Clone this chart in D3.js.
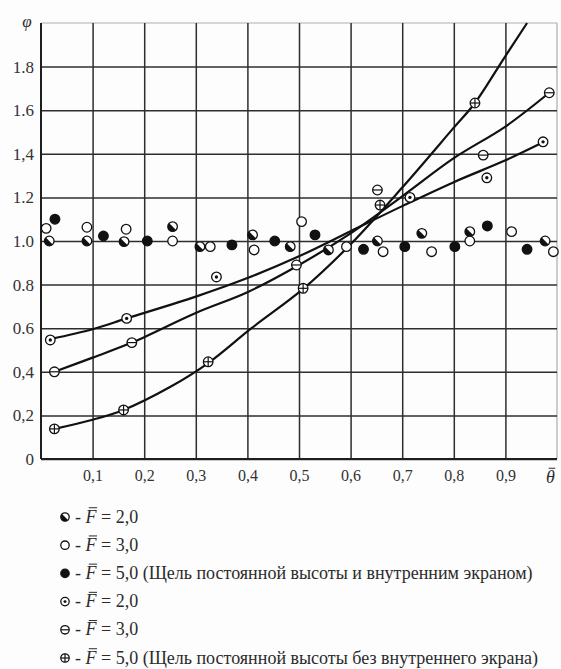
<!DOCTYPE html>
<html>
<head>
<meta charset="utf-8">
<script src="https://cdn.jsdelivr.net/npm/d3@7"></script>
<style>
  body { margin: 0; background: #fff; }
  svg text { white-space: pre; }
</style>
</head>
<body>
<div id="chart"></div>
<script>
"use strict"

var width = 561,
	height = 669;

var fontStack = "'Liberation Serif', 'Times New Roman', Tinos, 'DejaVu Serif', 'Noto Serif', serif";

// ticks
var xTicks = [0.1, 0.2, 0.3, 0.4, 0.5, 0.6, 0.7, 0.8, 0.9];
var xLabels = ["0,1", "0,2", "0,3", "0,4", "0,5", "0,6", "0,7", "0,8", "0,9"];
var yTicks = [0, 0.2, 0.4, 0.6, 0.8, 1.0, 1.2, 1.4, 1.6, 1.8];
var yLabels = ["0", "0,2", "0,4", "0.6", "0.8", "1.0", "1.2", "1,4", "1.6", "1.8"];

// fitted curves (without inner screen)
var curveF2 = [[0.018,0.55],[0.1,0.595],[0.166,0.645],[0.3,0.745],[0.4,0.83],[0.5,0.93],[0.6,1.045],[0.7,1.16],[0.8,1.27],[0.9,1.37],[0.975,1.455]];
var curveF3 = [[0.026,0.40],[0.1,0.465],[0.176,0.534],[0.3,0.67],[0.4,0.765],[0.5,0.89],[0.6,1.035],[0.7,1.205],[0.8,1.38],[0.9,1.525],[0.985,1.68]];
var curveF5 = [[0.026,0.138],[0.1,0.18],[0.16,0.225],[0.25,0.33],[0.324,0.44],[0.408,0.6],[0.508,0.78],[0.6,0.985],[0.7,1.245],[0.8,1.52],[0.841,1.633],[0.895,1.83],[0.942,2.0]];

// points, slot with inner screen
var halfPts = [[0.016,1.0],[0.089,1.0],[0.161,0.997],[0.255,1.066],[0.308,0.974],[0.41,1.028],[0.483,0.974],[0.557,0.959],[0.652,1.0],[0.738,1.035],[0.831,1.043],[0.977,1.0]];
var openPts = [[0.01,1.058],[0.089,1.063],[0.165,1.054],[0.255,1.0],[0.328,0.974],[0.413,0.959],[0.505,1.089],[0.592,0.974],[0.663,0.951],[0.757,0.951],[0.831,1.0],[0.912,1.043],[0.993,0.951]];
var filledPts = [[0.027,1.10],[0.121,1.023],[0.206,1.0],[0.37,0.982],[0.453,1.0],[0.531,1.028],[0.625,0.962],[0.705,0.974],[0.802,0.974],[0.865,1.069],[0.942,0.962]];

// points, slot without inner screen
var dotPts = [[0.018,0.546],[0.166,0.645],[0.34,0.835],[0.715,1.2],[0.864,1.29],[0.973,1.455]];
var minusPts = [[0.026,0.40],[0.176,0.534],[0.495,0.89],[0.652,1.234],[0.857,1.394],[0.985,1.68]];
var plusPts = [[0.026,0.138],[0.16,0.225],[0.324,0.446],[0.508,0.783],[0.657,1.165],[0.841,1.633]];

var legendSymbols = ["half", "open", "filled", "dot", "minus", "plus"];
var legendValues = ["2,0", "3,0", "5,0 (Щель постоянной высоты и внутренним экраном)",
	"2,0", "3,0", "5,0 (Щель постоянной высоты без внутреннего экрана)"];

var svg = d3.select("#chart").append("svg")
	.attr("width", width)
	.attr("height", height)
	.style("background", "#fdfdfd");

var x = d3.scaleLinear().domain([0, 1]).range([41, 557]);
var y = d3.scaleLinear().domain([0, 2]).range([459, 23]);

// top / right frame (light)
svg.append("line").attr("x1", x(0)).attr("x2", x(1)).attr("y1", y(2)).attr("y2", y(2))
	.attr("stroke", "#c8c8c8").attr("stroke-width", 1.3);
svg.append("line").attr("x1", x(1)).attr("x2", x(1)).attr("y1", y(2)).attr("y2", y(0))
	.attr("stroke", "#bdbdbd").attr("stroke-width", 1.5);

// grid + labels through axes
svg.append("g")
	.attr("transform", "translate(" + x(0) + ",0)")
	.call(d3.axisLeft(y).tickValues(yTicks)
		.tickFormat(function(d, i) { return yLabels[i]; })
		.tickSize(-(x(1) - x(0))).tickPadding(7))
	.selectAll(".tick text").attr("font-size", 17);

svg.append("g")
	.attr("transform", "translate(0," + y(0) + ")")
	.call(d3.axisBottom(x).tickValues(xTicks)
		.tickFormat(function(d, i) { return xLabels[i]; })
		.tickSize(-(y(0) - y(2))).tickPadding(11))
	.selectAll(".tick text").attr("font-size", 16);

svg.selectAll(".domain").remove();
svg.selectAll(".tick line").attr("stroke", "#2e2e2e").attr("stroke-width", 1.5);
svg.selectAll(".tick text").attr("fill", "#333").attr("font-family", fontStack);

// axes lines
svg.append("line").attr("x1", x(0)).attr("x2", x(0)).attr("y1", y(2)).attr("y2", y(0))
	.attr("stroke", "#1e1e1e").attr("stroke-width", 2);
svg.append("line").attr("x1", x(0)).attr("x2", x(1)).attr("y1", y(0)).attr("y2", y(0))
	.attr("stroke", "#1e1e1e").attr("stroke-width", 2);

// text with a bar over one italic letter
var barText = function(px, py, before, letter, after, size) {
	var g = svg.append("g").attr("font-family", fontStack).attr("font-size", size).attr("fill", "#2b2b2b");
	var cx = px;
	if (before) {
		var t0 = g.append("text").attr("x", cx).attr("y", py).text(before);
		cx += t0.node().getComputedTextLength();
	}
	var t1 = g.append("text").attr("x", cx).attr("y", py).attr("font-style", "italic").text(letter);
	var w = t1.node().getComputedTextLength();
	g.append("line")
		.attr("x1", cx + w * 0.3).attr("x2", cx + w * 1.05)
		.attr("y1", py - size * 0.82).attr("y2", py - size * 0.82)
		.attr("stroke", "#2b2b2b").attr("stroke-width", 1);
	cx += w;
	if (after) g.append("text").attr("x", cx).attr("y", py).text(after);
	return g;
};

// axis titles
svg.append("text").attr("x", 27).attr("y", 27).attr("text-anchor", "middle")
	.attr("font-family", fontStack).attr("fill", "#2b2b2b")
	.attr("font-size", 17).attr("font-style", "italic").text("φ");
barText(546, 483, null, "θ", null, 18);

// curves
var line = d3.line()
	.x(function(d) { return x(d[0]); })
	.y(function(d) { return y(d[1]); })
	.curve(d3.curveCatmullRom);

[curveF2, curveF3, curveF5].forEach(function(c) {
	svg.append("path").datum(c)
		.attr("d", line)
		.attr("fill", "none")
		.attr("stroke", "#111")
		.attr("stroke-width", 2.2);
});

// markers
var drawMarker = function(g, type, r) {
	var fill = type == "filled" ? "#111" : "#fff";
	g.append("circle").attr("r", r).attr("fill", fill)
		.attr("stroke", "#111").attr("stroke-width", 1.3);
	if (type == "half") {
		g.append("path")
			.attr("d", d3.arc()({innerRadius: 0, outerRadius: r, startAngle: Math.PI * 0.75, endAngle: Math.PI * 1.75}))
			.attr("fill", "#111");
	} else if (type == "dot") {
		g.append("circle").attr("r", r * 0.35).attr("fill", "#111");
	} else if (type == "minus" || type == "plus") {
		g.append("line").attr("x1", -r).attr("x2", r).attr("stroke", "#111").attr("stroke-width", 1.2);
		if (type == "plus")
			g.append("line").attr("y1", -r).attr("y2", r).attr("stroke", "#111").attr("stroke-width", 1.2);
	}
};

var series = [
	{type: "half", pts: halfPts},
	{type: "open", pts: openPts},
	{type: "filled", pts: filledPts},
	{type: "dot", pts: dotPts},
	{type: "minus", pts: minusPts},
	{type: "plus", pts: plusPts}
];

series.forEach(function(s) {
	svg.append("g").selectAll("g").data(s.pts).enter().append("g")
		.attr("transform", function(d) { return "translate(" + x(d[0]) + "," + y(d[1]) + ")"; })
		.each(function() { drawMarker(d3.select(this), s.type, 4.8); });
});

// legend
legendSymbols.forEach(function(sym, i) {
	var ly = 517 + i * 28.2;
	var g = svg.append("g").attr("transform", "translate(65," + ly + ")");
	drawMarker(g, sym, 4.2);
	barText(75, ly + 5.5, "-\u00a0", "F", "\u00a0=\u00a0" + legendValues[i], 18);
});
</script>
</body>
</html>
